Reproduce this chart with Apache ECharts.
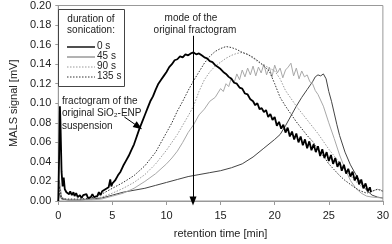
<!DOCTYPE html>
<html>
<head>
<meta charset="utf-8">
<script src="https://cdn.jsdelivr.net/npm/echarts@6/dist/echarts.min.js"></script>
<style>html,body{margin:0;padding:0;background:#fff}#c{width:392px;height:244px}</style>
</head>
<body>
<div id="c"></div>
<script>
// retention time [min] / MALS signal [mV] pairs
var s0 = [[0,0],[0.1,0.06],[0.15,0.097],[0.2,0.08],[0.3,0.03],[0.4,0.015],[0.5,0.024],[0.6,0.012],[0.75,0.009],[0.9,0.011],[1.0,0.007],[1.1,0.01],[1.25,0.006],[1.4,0.009],[1.5,0.005],[1.65,0.008],[1.8,0.004],[2.0,0.006],[2.15,0.003],[2.3,0.006],[2.45,0.004],[2.6,0.007],[2.75,0.003],[2.9,0.005],[3.0,0.004],[3.15,0.007],[3.3,0.004],[3.45,0.006],[3.6,0.005],[3.75,0.009],[3.9,0.006],[4.05,0.01],[4.2,0.009],[4.35,0.012],[4.5,0.011],[4.65,0.014],[4.8,0.022],[4.9,0.015],[5.0,0.018],[5.25,0.021],[5.5,0.026],[5.75,0.03],[6.0,0.036],[6.25,0.041],[6.5,0.046],[6.75,0.052],[7.0,0.058],[7.25,0.066],[7.5,0.074],[7.75,0.081],[8.0,0.088],[8.25,0.095],[8.5,0.102],[8.75,0.107],[9.0,0.114],[9.25,0.12],[9.5,0.124],[9.75,0.128],[10.0,0.132],[10.25,0.137],[10.5,0.14],[10.75,0.144],[11.0,0.145],[11.25,0.148],[11.5,0.147],[11.75,0.15],[12.0,0.149],[12.25,0.151],[12.5,0.152],[12.75,0.15],[13.0,0.151],[13.25,0.149],[13.5,0.147],[13.75,0.146],[14.0,0.143],[14.25,0.142],[14.5,0.139],[14.75,0.137],[15.0,0.135],[15.25,0.132],[15.5,0.13],[15.75,0.127],[16.0,0.125],[16.25,0.121],[16.5,0.12],[16.75,0.116],[17.0,0.115],[17.25,0.11],[17.5,0.109],[17.75,0.104],[18.0,0.102],[18.2,0.098],[18.4,0.1],[18.6,0.094],[18.8,0.095],[19.0,0.091],[19.2,0.093],[19.4,0.086],[19.6,0.089],[19.8,0.083],[20.0,0.086],[20.2,0.077],[20.4,0.081],[20.6,0.074],[20.8,0.078],[21.0,0.07],[21.2,0.075],[21.4,0.066],[21.6,0.071],[21.8,0.063],[22.0,0.069],[22.2,0.06],[22.4,0.066],[22.6,0.057],[22.8,0.063],[23.0,0.054],[23.2,0.061],[23.4,0.052],[23.6,0.058],[23.8,0.05],[24.0,0.056],[24.2,0.046],[24.4,0.053],[24.6,0.044],[24.8,0.05],[25.0,0.041],[25.2,0.047],[25.4,0.038],[25.6,0.044],[25.8,0.035],[26.0,0.04],[26.2,0.031],[26.4,0.037],[26.6,0.028],[26.8,0.033],[27.0,0.025],[27.2,0.03],[27.4,0.021],[27.6,0.026],[27.8,0.017],[28.0,0.022],[28.2,0.013],[28.4,0.018],[28.6,0.01],[28.8,0.014],[28.9,0.009]];

var s45 = [[0,0],[0.1,0.021],[0.3,0.004],[0.6,0.002],[1,0.001],[2,0.001],[3,0.001],[4,0.002],[5,0.005],[6,0.008],[7,0.013],[8,0.02],[9,0.028],[10,0.038],[10.5,0.044],[11,0.051],[11.5,0.06],[12,0.07],[12.5,0.078],[13,0.088],[13.5,0.094],[14,0.102],[14.5,0.106],[15,0.115],[15.25,0.112],[15.5,0.12],[15.75,0.117],[16,0.126],[16.25,0.121],[16.5,0.13],[16.75,0.124],[17,0.134],[17.25,0.127],[17.5,0.136],[17.75,0.129],[18,0.138],[18.25,0.128],[18.5,0.137],[18.75,0.131],[19,0.14],[19.25,0.129],[19.5,0.137],[19.75,0.127],[20,0.139],[20.25,0.131],[20.5,0.136],[20.75,0.126],[21,0.134],[21.25,0.137],[21.5,0.141],[21.75,0.128],[22,0.136],[22.25,0.125],[22.5,0.133],[22.75,0.127],[23,0.129],[23.25,0.122],[23.5,0.12],[23.75,0.113],[24,0.109],[24.5,0.097],[25,0.08],[25.5,0.064],[26,0.047],[26.5,0.033],[27,0.021],[27.5,0.013],[28,0.008],[28.5,0.005],[29,0.004],[30,0.003]];

var s90 = [[0,0],[0.1,0.02],[0.3,0.003],[0.6,0.002],[1,0.001],[2,0.001],[3,0.002],[4,0.004],[5,0.008],[6,0.013],[7,0.019],[8,0.027],[9,0.038],[10,0.052],[11,0.068],[12,0.087],[12.5,0.097],[13,0.112],[13.5,0.124],[14,0.132],[14.5,0.138],[15,0.142],[15.5,0.146],[16,0.149],[16.5,0.151],[17,0.152],[17.5,0.15],[18,0.146],[18.5,0.142],[19,0.139],[19.5,0.136],[20,0.133],[20.5,0.125],[21,0.113],[21.5,0.105],[22,0.097],[22.5,0.09],[23,0.083],[23.5,0.076],[24,0.069],[24.5,0.061],[25,0.053],[25.5,0.046],[26,0.039],[26.5,0.032],[27,0.026],[27.5,0.02],[28,0.015],[28.5,0.012],[29,0.01],[29.5,0.012],[30,0.011]];

var s135 = [[0,0],[0.1,0.015],[0.3,0.003],[0.6,0.002],[1,0.002],[2,0.002],[3,0.003],[4,0.007],[5,0.013],[6,0.019],[7,0.026],[8,0.036],[9,0.05],[10,0.07],[10.5,0.08],[11,0.092],[11.5,0.102],[12,0.113],[12.5,0.123],[13,0.132],[13.5,0.141],[14,0.148],[14.5,0.153],[15,0.156],[15.5,0.158],[16,0.157],[16.5,0.155],[17,0.152],[17.5,0.15],[18,0.147],[18.5,0.143],[19,0.138],[19.5,0.133],[20,0.12],[20.5,0.106],[21,0.097],[21.5,0.089],[22,0.081],[22.5,0.074],[23,0.067],[23.5,0.061],[24,0.053],[24.5,0.046],[25,0.038],[25.5,0.032],[26,0.026],[26.5,0.021],[27,0.017],[27.5,0.013],[28,0.01],[28.5,0.008],[29,0.01],[29.5,0.012],[30,0.01]];

var sLate = [[0,0],[0.1,0.008],[0.3,0.002],[1,0.001],[2,0.001],[3,0.002],[4,0.003],[5,0.006],[6,0.009],[7,0.011],[8,0.013],[9,0.016],[10,0.019],[11,0.022],[12,0.025],[13,0.027],[14,0.029],[15,0.031],[16,0.034],[17,0.038],[18,0.045],[19,0.054],[20,0.063],[20.5,0.068],[21,0.077],[21.5,0.087],[22,0.097],[22.5,0.106],[23,0.114],[23.5,0.122],[23.75,0.127],[24,0.129],[24.25,0.128],[24.5,0.13],[24.75,0.125],[25,0.112],[25.25,0.102],[25.5,0.09],[25.75,0.078],[26,0.067],[26.5,0.05],[27,0.037],[27.5,0.027],[28,0.018],[28.5,0.011],[29,0.006],[29.5,0.004],[30,0.003]];

var xTicks = {min: 0, max: 30, interval: 5};
var yTicks = {min: 0, max: 0.2, interval: 0.02};
var legendLabels = ['0 s', '45 s', '90 s', '135 s'];
var modeTime = 12.45;

var FONT = 'Liberation Sans, Arial, sans-serif';
var chart = echarts.init(document.getElementById('c'), null, {renderer: 'canvas'});

var legendStyles = [
  {stroke: '#222', lineWidth: 1.6, lineDash: null},
  {stroke: '#666', lineWidth: 1, lineDash: null},
  {stroke: '#999', lineWidth: 1, lineDash: [1.5, 1.5]},
  {stroke: '#333', lineWidth: 1, lineDash: [1.5, 1.5]}
];
var legendGraphics = [
  {type: 'rect', shape: {x: 58.5, y: 9.5, width: 66, height: 77}, style: {fill: '#fff', stroke: '#444', lineWidth: 1}, z: 10},
  {type: 'text', x: 91, y: 14, style: {text: 'duration of', font: '10px ' + FONT, fill: '#222', align: 'center'}, z: 11},
  {type: 'text', x: 91, y: 25, style: {text: 'sonication:', font: '10px ' + FONT, fill: '#222', align: 'center'}, z: 11}
];
legendLabels.forEach(function (lab, i) {
  var yy = 47 + i * 10;
  var st = legendStyles[i];
  legendGraphics.push({type: 'line', shape: {x1: 67, y1: yy, x2: 95, y2: yy},
    style: {stroke: st.stroke, lineWidth: st.lineWidth, lineDash: st.lineDash}, z: 11});
  legendGraphics.push({type: 'text', x: 97, y: yy - 5.5, style: {text: lab, font: '10px ' + FONT, fill: '#222'}, z: 11});
});

function line(name, data, color, width, type) {
  return {name: name, type: 'line', data: data, showSymbol: false, symbol: 'none',
    lineStyle: {color: color, width: width, type: type}, animation: false, z: 3};
}

var option = {
  animation: false,
  grid: {left: 53, right: 8, top: 5, bottom: 36, show: true, borderColor: '#999', borderWidth: 1},
  xAxis: {type: 'value', min: xTicks.min, max: xTicks.max, interval: xTicks.interval,
    name: 'retention time [min]', nameLocation: 'middle', nameGap: 27,
    nameTextStyle: {fontFamily: FONT, fontSize: 11, color: '#222'},
    axisLine: {show: true, lineStyle: {color: '#999'}},
    axisTick: {show: true, length: 4, lineStyle: {color: '#999'}},
    axisLabel: {fontFamily: FONT, fontSize: 11, color: '#222', margin: 9},
    splitLine: {show: false}},
  yAxis: {type: 'value', min: yTicks.min, max: yTicks.max, interval: yTicks.interval,
    name: 'MALS signal [mV]', nameLocation: 'middle', nameGap: 38,
    nameTextStyle: {fontFamily: FONT, fontSize: 11, color: '#222'},
    axisLine: {show: true, lineStyle: {color: '#999'}},
    axisTick: {show: true, length: 3, lineStyle: {color: '#999'}},
    axisLabel: {fontFamily: FONT, fontSize: 11, color: '#222', margin: 7,
      formatter: function (v) { return v.toFixed(2); }},
    splitLine: {show: false}},
  series: [
    line('additional', sLate, '#444', 1, 'solid'),
    line('45 s', s45, '#a8a8a8', 1, 'solid'),
    line('90 s', s90, '#9a9a9a', 1, [1.5, 1.5]),
    line('135 s', s135, '#333', 1, [1.5, 1.5]),
    Object.assign(line('0 s', s0, '#000', 1.8, 'solid'), {
      z: 5,
      markLine: {silent: true, animation: false, symbol: ['none', 'triangle'], symbolSize: [7, 9],
        label: {show: false},
        lineStyle: {color: '#000', width: 1, type: 'solid'},
        data: [
          [{coord: [modeTime, 0.169]}, {coord: [modeTime, 0]}],
          [{coord: [6.1, 0.086]}, {coord: [7.4, 0.076]}]
        ]}
    })
  ],
  graphic: legendGraphics.concat([
    {type: 'text', x: 191, y: 13, style: {text: 'mode of the', font: '10px ' + FONT, fill: '#222', align: 'center'}, z: 12},
    {type: 'text', x: 195, y: 25, style: {text: 'original fractogram', font: '10px ' + FONT, fill: '#222', align: 'center'}, z: 12},
    {type: 'text', x: 62, y: 96, style: {text: 'fractogram of the', font: '10px ' + FONT, fill: '#222'}, z: 12},
    {type: 'text', x: 62, y: 108.5, style: {text: 'original SiO\u2082-ENP', font: '10px ' + FONT, fill: '#222'}, z: 12},
    {type: 'text', x: 62, y: 121, style: {text: 'suspension', font: '10px ' + FONT, fill: '#222'}, z: 12}
  ])
};
chart.setOption(option);
</script>
</body>
</html>
